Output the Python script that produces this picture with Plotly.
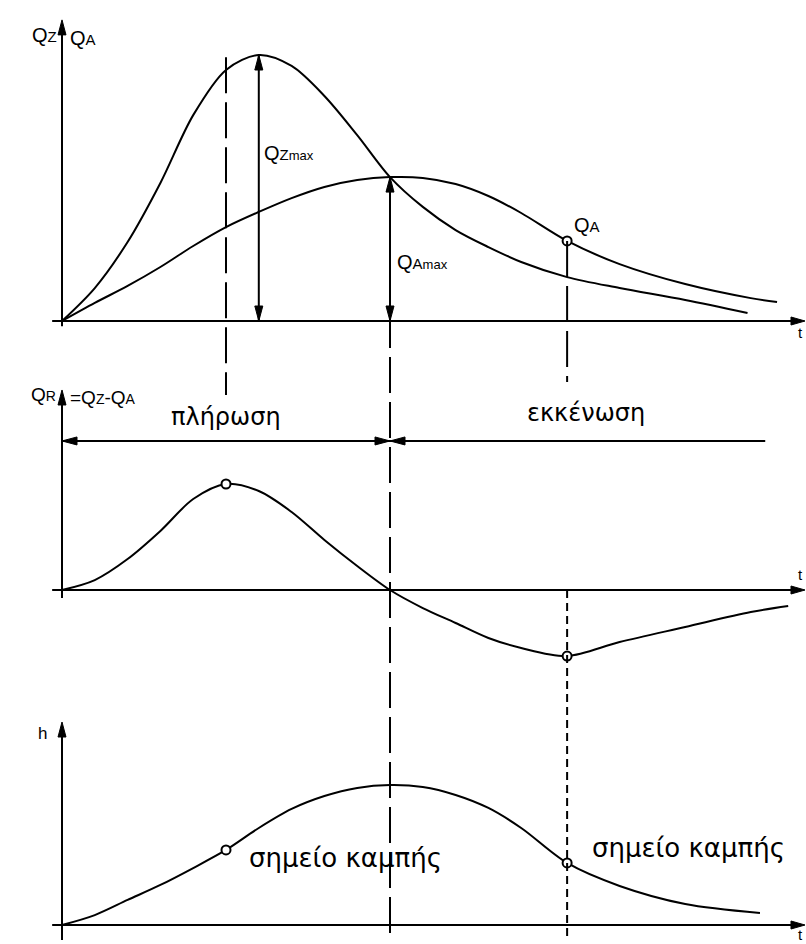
import plotly.graph_objects as go

# ---- curve samples (time in arbitrary units, flows/level normalised) ----
t_qz = [0, 0.5, 1, 1.5, 2, 2.5, 3, 3.5, 4, 4.5, 5, 5.5, 6, 6.5, 7, 7.7, 8.5, 9.5, 10.45]
q_z = [0, 0.124, 0.297, 0.519, 0.774, 0.944, 1.0, 0.959, 0.846, 0.699, 0.541,
       0.429, 0.342, 0.278, 0.222, 0.165, 0.124, 0.079, 0.030]

t_qa = [0, 0.5, 1, 1.5, 2, 2.5, 3, 3.5, 4, 4.5, 5, 5.5, 6, 6.5, 7, 7.7, 8.5, 9.5, 10.5, 10.9]
q_a = [0, 0.068, 0.132, 0.203, 0.282, 0.353, 0.410, 0.462, 0.504, 0.530, 0.541,
       0.538, 0.515, 0.470, 0.406, 0.301, 0.214, 0.139, 0.086, 0.071]

t_qr = [0, 0.5, 1, 1.5, 2, 2.5, 3, 3.5, 4, 4.5, 5, 5.5, 6, 6.5, 7, 7.7, 8.5, 9.5, 10.5, 11.07]
q_r = [0, 0.094, 0.292, 0.557, 0.858, 1.0, 0.934, 0.736, 0.472, 0.226, 0,
       -0.170, -0.311, -0.453, -0.547, -0.623, -0.491, -0.349, -0.208, -0.151]

t_h = [0, 0.5, 1, 1.5, 2, 2.5, 3, 3.5, 4, 4.5, 5, 5.5, 6, 6.5, 7, 7.7, 8.5, 9.5, 10.64]
h = [0, 0.071, 0.179, 0.286, 0.407, 0.536, 0.693, 0.829, 0.921, 0.979, 1.0,
     0.986, 0.929, 0.836, 0.693, 0.443, 0.279, 0.150, 0.086]

# characteristic instants
T_RMAX = 2.5      # max storage inflow rate / first inflection of h
T_ZMAX = 3.0      # inflow peak
T_CROSS = 5.0     # Q_Z = Q_A, outflow peak, max level
T_RMIN = 7.7      # max emptying rate / second inflection of h

label_fill = "πλήρωση"
label_empty = "εκκένωση"
label_infl = "σημείο καμπής"

W, H = 806, 944
FONT_Q = "Liberation Sans, Arial, sans-serif"
FONT_GR = "DejaVu Sans, Verdana, sans-serif"
INK = "black"

# ---- layout frame: one time axis, three stacked value axes ----
PX_PER_T, T0_PX = 65.6, 62
x_range = [-T0_PX / PX_PER_T, (W - T0_PX) / PX_PER_T]

panels = {
    "y":  dict(top=0,   bottom=375, zero=321, scale=266),
    "y2": dict(top=375, bottom=700, zero=590, scale=106),
    "y3": dict(top=700, bottom=944, zero=925, scale=140),
}
for p in panels.values():
    p["domain"] = [1 - p["bottom"] / H, 1 - p["top"] / H]
    p["range"] = [(p["zero"] - p["bottom"]) / p["scale"], (p["zero"] - p["top"]) / p["scale"]]


def to_paper(axis, v):
    p = panels[axis]
    r0, r1 = p["range"]
    d0, d1 = p["domain"]
    return d0 + (v - r0) / (r1 - r0) * (d1 - d0)


def val_at(ts, vs, t):
    return vs[ts.index(t)]


fig = go.Figure()
line = dict(color=INK, width=2, shape="spline", smoothing=0.9)
fig.add_trace(go.Scatter(x=t_qz, y=q_z, mode="lines", line=line, yaxis="y", hoverinfo="skip"))
fig.add_trace(go.Scatter(x=t_qa, y=q_a, mode="lines", line=line, yaxis="y", hoverinfo="skip"))
fig.add_trace(go.Scatter(x=t_qr, y=q_r, mode="lines", line=line, yaxis="y2", hoverinfo="skip"))
fig.add_trace(go.Scatter(x=t_h, y=h, mode="lines", line=line, yaxis="y3", hoverinfo="skip"))

marker = dict(symbol="circle", size=9, color="white", line=dict(color=INK, width=2))
fig.add_trace(go.Scatter(x=[T_RMIN], y=[val_at(t_qa, q_a, T_RMIN)], mode="markers",
                         marker=marker, yaxis="y", hoverinfo="skip"))
fig.add_trace(go.Scatter(x=[T_RMAX, T_RMIN],
                         y=[val_at(t_qr, q_r, T_RMAX), val_at(t_qr, q_r, T_RMIN)],
                         mode="markers", marker=marker, yaxis="y2", hoverinfo="skip"))
fig.add_trace(go.Scatter(x=[T_RMAX, T_RMIN],
                         y=[val_at(t_h, h, T_RMAX), val_at(t_h, h, T_RMIN)],
                         mode="markers", marker=marker, yaxis="y3", hoverinfo="skip"))

shapes = []


def seg(yref, x0, y0, x1, y1, dash="solid", width=2):
    shapes.append(dict(type="line", xref="x", yref=yref, x0=x0, y0=y0, x1=x1, y1=y1,
                       line=dict(color=INK, width=width, dash=dash), layer="above"))


def head(yref, x, y, direction, length=15, half=4):
    paths = {
        "up": f"M0,0 L{-half},{-length} L{half},{-length} Z",
        "down": f"M0,0 L{-half},{length} L{half},{length} Z",
        "left": f"M0,0 L{length},{-half} L{length},{half} Z",
        "right": f"M0,0 L{-length},{-half} L{-length},{half} Z",
    }
    shapes.append(dict(type="path", xref="x", yref=yref, xsizemode="pixel", ysizemode="pixel",
                       xanchor=x, yanchor=y, path=paths[direction], fillcolor=INK,
                       line=dict(color=INK, width=1), layer="above"))


def vdash(x, a0, v0, a1, v1, dash):
    shapes.append(dict(type="line", xref="x", yref="paper", x0=x, x1=x,
                       y0=to_paper(a0, v0), y1=to_paper(a1, v1),
                       line=dict(color=INK, width=2, dash=dash), layer="above"))


# coordinate axes with arrow tips
T_TIP = 11.326
T_LEFT = -0.15
axis_tips = {"y": 1.132, "y2": 1.887, "y3": 1.45}
axis_foot = {"y": -0.02, "y2": -0.075, "y3": -0.107}
for ax in ("y", "y2", "y3"):
    seg(ax, T_LEFT, 0, T_TIP - 0.1, 0)
    head(ax, T_TIP, 0, "right", length=14, half=4)
    seg(ax, 0, axis_foot[ax], 0, axis_tips[ax] - 0.05)
    head(ax, 0, axis_tips[ax], "up", length=15, half=4)

# peak magnitudes
qz_peak = max(q_z)
qa_peak = val_at(t_qa, q_a, T_CROSS)
seg("y", T_ZMAX, 0, T_ZMAX, qz_peak)
head("y", T_ZMAX, qz_peak, "up")
head("y", T_ZMAX, 0, "down")
seg("y", T_CROSS, 0, T_CROSS, qa_peak)
head("y", T_CROSS, qa_peak, "up")
head("y", T_CROSS, 0, "down")

# filling / emptying spans
Y_SPAN = 1.406
seg("y2", 0, Y_SPAN, T_CROSS, Y_SPAN)
head("y2", 0, Y_SPAN, "left")
head("y2", T_CROSS, Y_SPAN, "right")
seg("y2", T_CROSS, Y_SPAN, 10.72, Y_SPAN)
head("y2", T_CROSS, Y_SPAN, "left")

# guide lines through the characteristic instants
LONG = "36px,9px"
SHORT = "8px,5px"
vdash(T_RMAX, "y", 0.992, "y2", 1.84, LONG)
vdash(T_CROSS, "y", qa_peak, "y3", -0.107, LONG)
vdash(T_RMIN, "y", val_at(t_qa, q_a, T_RMIN), "y2", 1.962, LONG)
vdash(T_RMIN, "y2", 0, "y3", -0.107, SHORT)


def sub(txt, size):
    return f"<span style='font-size:{size}px'>{txt}</span>"


ann = []


def text(yref, x, y, s, size=20, family=FONT_Q, xanchor="center"):
    ann.append(dict(xref="x", yref=yref, x=x, y=y, text=s, showarrow=False,
                    font=dict(family=family, size=size, color=INK),
                    xanchor=xanchor, yanchor="middle"))


text("y", -0.05, 1.075, "Q" + sub("Z", 15), xanchor="right")
text("y", 0.09, 1.064, "Q" + sub("A", 15), xanchor="left")
text("y", 3.05, 0.632, "Q" + sub("Z", 15) + sub("max", 13), xanchor="left")
text("y", 5.076, 0.222, "Q" + sub("A", 15) + sub("max", 13), xanchor="left")
text("y", 7.77, 0.361, "Q" + sub("A", 15), xanchor="left")
text("y", 11.26, -0.045, "t", size=15)

text("y2", -0.06, 1.84, "Q" + sub("R", 14), size=19, xanchor="right")
text("y2", 0.09, 1.82, "=Q" + sub("Z", 14) + "-Q" + sub("A", 14), size=19, xanchor="left")
text("y2", T_RMAX, 1.632, label_fill, size=24, family=FONT_GR)
text("y2", 7.99, 1.67, label_empty, size=24, family=FONT_GR)
text("y2", 11.26, 0.142, "t", size=15)

text("y3", -0.2, 1.371, "h", size=17, xanchor="right")
text("y3", 2.82, 0.479, label_infl, size=26, family=FONT_GR, xanchor="left")
text("y3", 8.05, 0.55, label_infl, size=26, family=FONT_GR, xanchor="left")
text("y3", 11.26, -0.065, "t", size=15)

hidden = dict(visible=False, showgrid=False, zeroline=False, fixedrange=True)
fig.update_layout(
    width=W, height=H,
    margin=dict(l=0, r=0, t=0, b=0),
    paper_bgcolor="white", plot_bgcolor="white",
    showlegend=False,
    xaxis=dict(range=x_range, domain=[0, 1], anchor="y", **hidden),
    yaxis=dict(range=panels["y"]["range"], domain=panels["y"]["domain"], anchor="x", **hidden),
    yaxis2=dict(range=panels["y2"]["range"], domain=panels["y2"]["domain"], anchor="x", **hidden),
    yaxis3=dict(range=panels["y3"]["range"], domain=panels["y3"]["domain"], anchor="x", **hidden),
    shapes=shapes,
    annotations=ann,
)

fig.write_html("out.html")
